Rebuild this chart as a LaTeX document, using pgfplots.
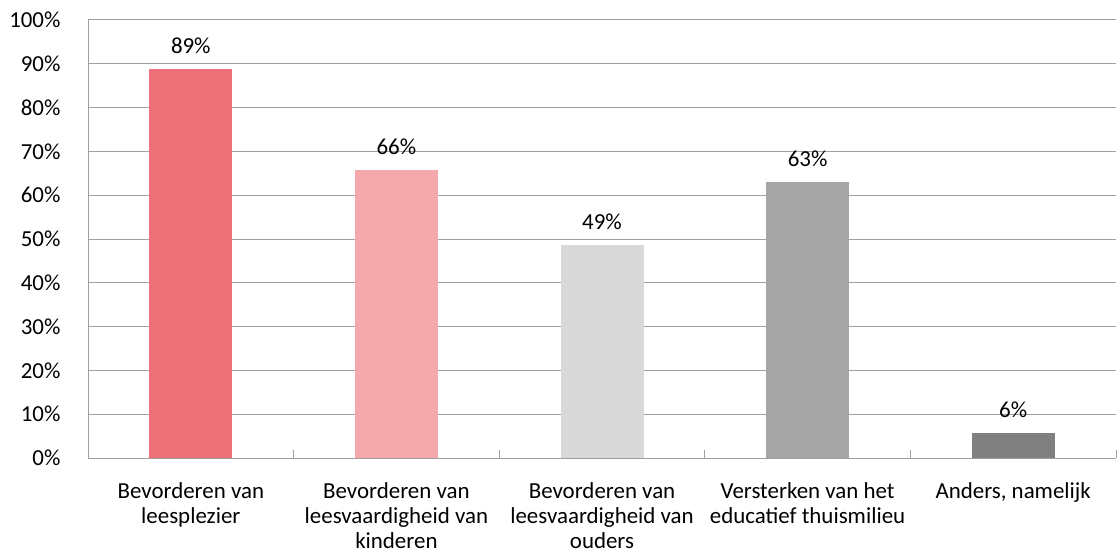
\documentclass[border=0pt]{standalone}
\usepackage{pgfplots}
\pgfplotsset{compat=1.18}
\usepackage{fontspec}
\setmainfont{Carlito}
\definecolor{bar1}{RGB}{237,112,120}
\definecolor{bar2}{RGB}{244,168,172}
\definecolor{bar3}{RGB}{217,217,217}
\definecolor{bar4}{RGB}{166,166,166}
\definecolor{bar5}{RGB}{128,128,128}
\definecolor{gridc}{RGB}{160,160,160}
\begin{document}
\begin{tikzpicture}
\begin{axis}[
  scale only axis, width=1028bp, height=438bp,
  ybar, bar width=83bp, bar shift=0pt,
  xmin=-0.5, xmax=4.5, ymin=0, ymax=100,
  axis x line*=bottom, axis y line*=left,
  axis line style={gridc, line width=1bp},
  xtick={-0.5,0.5,...,4.5},
  xticklabels={},
  major tick length=8bp,
  tick align=inside,
  x tick style={draw=gridc, line width=1bp},
  extra x ticks={0,1,2,3,4},
  extra x tick labels={Bevorderen van\\leesplezier, Bevorderen van\\leesvaardigheid van\\kinderen, Bevorderen van\\leesvaardigheid van\\ouders, Versterken van het\\educatief thuismilieu, {Anders, namelijk}},
  extra x tick style={major tick length=0pt, grid=none,
    tick label style={align=center, font=\fontsize{23}{25}\selectfont, yshift=-21bp}},
  ytick={0,10,...,100},
  yticklabel={\pgfmathprintnumber{\tick}\%},
  y tick label style={font=\fontsize{23}{25}\selectfont, xshift=-24bp},
  /pgf/number format/assume math mode=true,
  y tick style={draw=none},
  ymajorgrids, grid style={gridc, line width=1bp},
  nodes near coords={\pgfmathprintnumber[precision=0]{\pgfplotspointmeta}\%},
  every node near coord/.append style={font=\fontsize{23}{25}\selectfont, yshift=12bp, black},
  clip=false,
]
\addplot[fill=bar1, draw=none] coordinates {(0,88.7)};
\addplot[fill=bar2, draw=none] coordinates {(1,65.8)};
\addplot[fill=bar3, draw=none] coordinates {(2,48.6)};
\addplot[fill=bar4, draw=none] coordinates {(3,63.0)};
\addplot[fill=bar5, draw=none] coordinates {(4,5.7)};
\coordinate (bl) at (rel axis cs:0,0);
\coordinate (tr) at (rel axis cs:1,1);
\end{axis}
\pgfresetboundingbox
\path[use as bounding box] ([shift={(-88bp,-97bp)}]bl) rectangle ([shift={(1bp,20bp)}]tr);
\end{tikzpicture}
\end{document}
